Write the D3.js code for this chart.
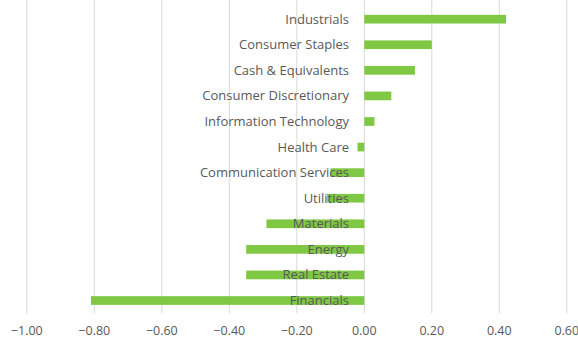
<!DOCTYPE html>
<html>
<head>
<meta charset="utf-8">
<script src="https://cdn.jsdelivr.net/npm/d3@7"></script>
<style>
  body { margin: 0; background: #fff; }
</style>
</head>
<body>
<div id="chart"></div>
<script>
/****** DATA ******/
var sectors = ["Industrials", "Consumer Staples", "Cash & Equivalents", "Consumer Discretionary",
  "Information Technology", "Health Care", "Communication Services", "Utilities",
  "Materials", "Energy", "Real Estate", "Financials"];
var values = [0.42, 0.20, 0.15, 0.08, 0.03, -0.02, -0.10, -0.11, -0.29, -0.35, -0.35, -0.81];
var xTicks = [-1.0, -0.8, -0.6, -0.4, -0.2, 0, 0.2, 0.4, 0.6];

var width = 578, height = 343;
var plot = {left: 26.8, right: 566.8, top: 6.4, bottom: 313.3};

var svg = d3.select("#chart")
  .append("svg")
  .attr("width", width)
  .attr("height", height);

/****** SCALES ******/
var x = d3.scaleLinear()
  .domain([-1.0, 0.6])
  .range([plot.left, plot.right]);

var y = d3.scaleBand()
  .domain(sectors)
  .range([plot.top, plot.bottom])
  .paddingInner(0.66)
  .paddingOuter(0.33);

// gridlines
svg.append("g")
  .selectAll("line")
  .data(xTicks)
  .enter()
  .append("line")
    .attr("x1", function(d) { return x(d); })
    .attr("x2", function(d) { return x(d); })
    .attr("y1", 0)
    .attr("y2", plot.bottom)
    .attr("stroke", "#d9d9d9")
    .attr("stroke-width", 1);

// bars
svg.append("g")
  .selectAll("rect")
  .data(values)
  .enter()
  .append("rect")
    .attr("x", function(d) { return x(Math.min(0, d)); })
    .attr("width", function(d) { return Math.abs(x(d) - x(0)); })
    .attr("y", function(d, i) { return y(sectors[i]); })
    .attr("height", y.bandwidth())
    .attr("fill", "#7fc844");

// category labels, drawn over the bars
svg.append("g")
  .selectAll("text")
  .data(sectors)
  .enter()
  .append("text")
    .attr("x", 349)
    .attr("y", function(d) { return y(d) + y.bandwidth() / 2; })
    .attr("dy", "0.35em")
    .attr("text-anchor", "end")
    .style("font-family", "'Open Sans'")
    .style("font-size", "13px")
    .style("fill", "#595959")
    .text(function(d) { return d; });

// x axis labels
svg.append("g")
  .selectAll("text")
  .data(xTicks)
  .enter()
  .append("text")
    .attr("x", function(d) { return x(d); })
    .attr("y", 331)
    .attr("dy", "0.35em")
    .attr("text-anchor", "middle")
    .style("font-family", "'Open Sans'")
    .style("font-size", "12.5px")
    .style("fill", "#595959")
    .text(function(d) { return d3.format(".2f")(d); });
</script>
</body>
</html>
